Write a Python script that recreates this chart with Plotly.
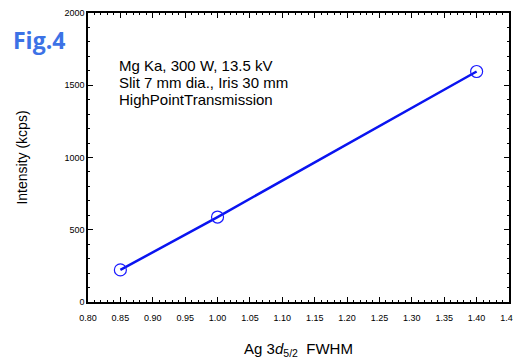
import plotly.graph_objects as go

fwhm = [0.85, 1.00, 1.40]
intensity = [222, 588, 1595]

x_ticks = [0.80, 0.85, 0.90, 0.95, 1.00, 1.05, 1.10, 1.15, 1.20, 1.25, 1.30, 1.35, 1.40, 1.45]
x_ticklabels = ["0.80", "0.85", "0.90", "0.95", "1.00", "1.05", "1.10", "1.15", "1.20", "1.25", "1.30", "1.35", "1.40", "1.45"]
y_ticks = [0, 500, 1000, 1500, 2000]

annotation_lines = ["Mg Ka, 300 W, 13.5 kV", "Slit 7 mm dia., Iris 30 mm", "HighPointTransmission"]
line_y = [0.820, 0.758, 0.699]

FONT = "Liberation Sans, Arial, sans-serif"

fig = go.Figure()
fig.add_trace(go.Scatter(
    x=fwhm, y=intensity, mode="lines+markers",
    line=dict(color="#0a14f0", width=2.5),
    marker=dict(symbol="circle-open", size=12, color="#1a1aff", line=dict(width=1.2)),
    showlegend=False,
))

axis_common = dict(
    showline=True, linecolor="black", linewidth=1.5, mirror="ticks",
    ticks="inside", ticklen=5, tickwidth=1, tickcolor="black",
    showgrid=False, zeroline=False, automargin=False, ticklabeloverflow="allow",
    tickfont=dict(family=FONT, size=9, color="black"),
)

fig.update_xaxes(
    range=[0.80, 1.45], tickvals=x_ticks, ticktext=x_ticklabels,
    ticklabelstandoff=6,
    minor=dict(dtick=0.01, ticks="inside", ticklen=2.5, tickcolor="black", showgrid=False),
    title=dict(text="Ag 3<i>d</i><sub>5/2</sub>&nbsp;&nbsp;FWHM", font=dict(family=FONT, size=15, color="black"), standoff=22),
    **axis_common,
)
fig.update_yaxes(
    range=[0, 2000], tickvals=y_ticks,
    minor=dict(dtick=100, ticks="inside", ticklen=2.5, tickcolor="black", showgrid=False),
    title=dict(text="Intensity (kcps)", font=dict(family=FONT, size=14, color="black"), standoff=34),
    **axis_common,
)

for txt, yy in zip(annotation_lines, line_y):
    fig.add_annotation(
        xref="paper", yref="paper", x=0.069, y=yy, xanchor="left", yanchor="middle",
        text=txt, showarrow=False, align="left",
        font=dict(family=FONT, size=15, color="black"),
    )
fig.add_annotation(
    xref="paper", yref="paper", x=-0.182, y=0.905, xanchor="left", yanchor="middle",
    text="<b>Fig.4</b>", showarrow=False,
    font=dict(family="Open Sans, Noto Sans, sans-serif", size=23, color="#3c72e6"),
)

fig.update_layout(
    width=513, height=359,
    margin=dict(l=88, r=4, t=13, b=57),
    paper_bgcolor="white", plot_bgcolor="white",
)

fig.write_html(
    "out.html",
    config={"displayModeBar": False},
    post_script="document.body.style.margin='0';document.body.style.overflow='hidden';",
)
